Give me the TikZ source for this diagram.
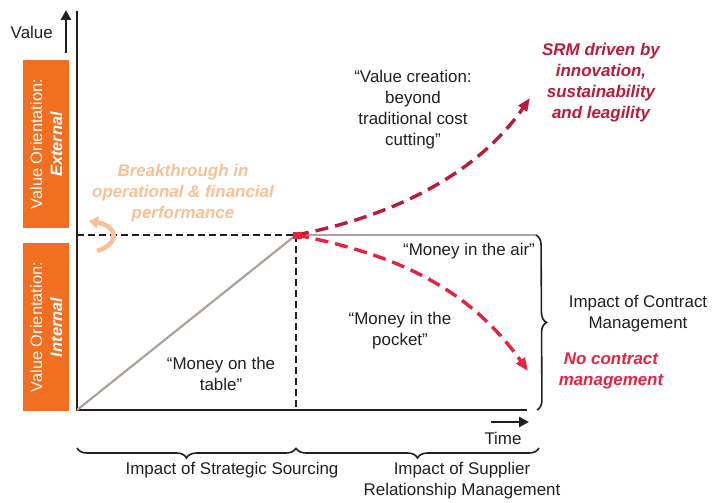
\documentclass[tikz,border=0pt]{standalone}
\usepackage{fontspec}
\setmainfont{Liberation Sans}
\usetikzlibrary{decorations.pathreplacing,arrows.meta}
\definecolor{orng}{HTML}{F26F21}
\definecolor{peach}{HTML}{FBBF94}
\definecolor{dred}{HTML}{B91C3B}
\definecolor{bred}{HTML}{E8213F}
\definecolor{graylin}{HTML}{ABA39B}
\definecolor{txt}{HTML}{231F20}
\tikzset{
  lbl/.style={text=txt, align=center, inner sep=0pt, font=\fontsize{17}{21}\selectfont},
  emph/.style={font=\fontsize{17}{21}\selectfont\bfseries\itshape},
  obox/.style={fill=orng, draw=none, minimum width=46bp, inner sep=0pt, anchor=north west},
  otext/.style={text=white, align=center, rotate=90, inner sep=0pt, font=\fontsize{16.5}{20}\selectfont},
  axisline/.style={draw=txt, line width=2.8bp},
  guide/.style={draw=txt, line width=2.4bp, dash pattern=on 7bp off 4bp},
  grayline/.style={draw=graylin, line width=2.2bp},
  curve/.style={line width=3.4bp, dash pattern=on 13bp off 7bp, -{Triangle[length=13bp,width=10bp]}},
  brc/.style={draw=txt, line width=1.6bp, decorate, decoration={brace, amplitude=10bp}},
  tarrow/.style={draw=txt, line width=2.6bp, -{Triangle[length=10bp,width=10bp]}},
}
\begin{document}
\begin{tikzpicture}[x=1bp,y=-1bp]
\useasboundingbox (0,0) rectangle (714,503);
% orange boxes
\node[obox, minimum height=168bp] (ext) at (23,60) {};
\node[obox, minimum height=168bp] (int) at (23,243) {};
\node[otext] (extt) at (ext.center) {Value Orientation:\\\textbf{\textit{External}}};
\node[otext] (intt) at (int.center) {Value Orientation:\\\textbf{\textit{Internal}}};
% coordinates
\coordinate (O) at (77,410);
\coordinate (Ytop) at (77,11);
\coordinate (Xend) at (527,410);
\coordinate (P) at (296,235);
\coordinate (Pl) at (77,235);
\coordinate (Pb) at (296,410);
\coordinate (Gr) at (536,235);
\coordinate (Up) at (530,98);
\coordinate (Dn) at (528,371);
\coordinate (Va) at (66,53);
\coordinate (Vb) at (66,10);
\coordinate (Ta) at (491,422);
\coordinate (Tb) at (529,422);
\coordinate (Ba) at (97,251);
\coordinate (Bb) at (89,221);
% axes
\draw[axisline] (Ytop) -- (O) -- (Xend);
\draw[tarrow] (Va) -- (Vb);
\draw[tarrow] (Ta) -- (Tb);
\node[lbl, anchor=east] (value) at (53,32) {Value};
\node[lbl] (time) at (503,438) {Time};
% guides
\draw[grayline] (O) -- (P);
\draw[grayline] (P) -- (Gr);
\draw[guide] (Pl) -- (P);
\draw[guide] (P) -- (Pb);
% curves
\draw[curve, draw=dred] (P) .. controls (400,215) and (480,170) .. (Up);
\draw[curve, draw=bred] (P) .. controls (400,255) and (470,290) .. (Dn);
\fill[bred] (293,232) rectangle (302,239);
% peach arrow
\draw[peach, line width=4.5bp, -{Triangle[length=9bp,width=12bp]}] (Ba) .. controls (120,244) and (118,226) .. (Bb);
% braces
\draw[brc] (Gr) -- (537,410);
\draw[brc] (296,448) -- (77,448);
\draw[brc] (539,448) -- (296,448);
% labels
\node[lbl] (vc) at (413,110) {“Value creation:\\beyond\\traditional cost\\cutting”};
\node[lbl] (air) at (469,251) {“Money in the air”};
\node[lbl] (pocket) at (400,331) {“Money in the\\pocket”};
\node[lbl] (table) at (221,374) {“Money on the\\table”};
\node[lbl, emph, text=peach] (bt) at (183,193) {Breakthrough in\\operational \& financial\\performance};
\node[lbl, emph, text=dred] (srm) at (601,83) {SRM driven by\\innovation,\\sustainability\\and leagility};
\node[lbl, emph, text=bred] (ncm) at (611,371) {No contract\\management};
\node[lbl] (icm) at (638,314) {Impact of Contract\\Management};
\node[lbl] (iss) at (232,470) {Impact of Strategic Sourcing};
\node[lbl] (isrm) at (462,481) {Impact of Supplier\\Relationship Management};
\end{tikzpicture}
\end{document}
